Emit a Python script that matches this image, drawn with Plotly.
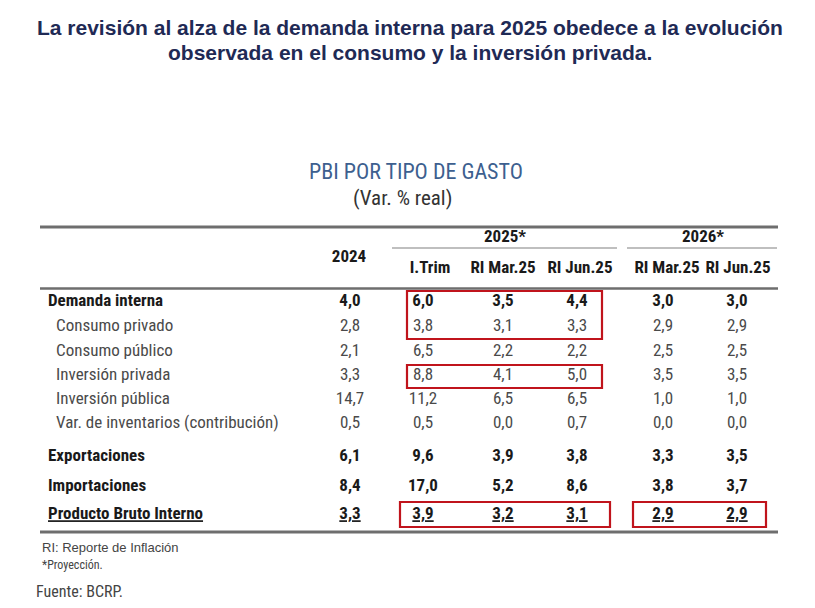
import plotly.graph_objects as go

# ---- data ----
categories = ["Demanda interna", "Consumo privado", "Consumo público", "Inversión privada",
              "Inversión pública", "Var. de inventarios (contribución)", "Exportaciones",
              "Importaciones", "Producto Bruto Interno"]
bold_rows = [True, False, False, False, False, False, True, True, True]
v2024 = [4.0, 2.8, 2.1, 3.3, 14.7, 0.5, 6.1, 8.4, 3.3]
itrim25 = [6.0, 3.8, 6.5, 8.8, 11.2, 0.5, 9.6, 17.0, 3.9]
mar25 = [3.5, 3.1, 2.2, 4.1, 6.5, 0.0, 3.9, 5.2, 3.2]
jun25 = [4.4, 3.3, 2.2, 5.0, 6.5, 0.7, 3.8, 8.6, 3.1]
mar26 = [3.0, 2.9, 2.5, 3.5, 1.0, 0.0, 3.3, 3.8, 2.9]
jun26 = [3.0, 2.9, 2.5, 3.5, 1.0, 0.0, 3.5, 3.7, 2.9]
sub_headers = ["I.Trim", "RI Mar.25", "RI Jun.25", "RI Mar.25", "RI Jun.25"]

# ---- layout (page-pixel coordinate system; page body has an 8px margin) ----
W, H = 815, 608
OFF = 8
row_y = [302, 327, 352, 376, 400, 424, 457, 487, 515]
col_x = [350, 423, 503, 577, 663, 737]
sub_x = [430, 503, 580, 667, 738]
FONT = "Liberation Sans Narrow, Arial Narrow, Roboto Condensed, Liberation Sans, Arial, sans-serif"
FS = 17
DARK = "#1a1a1a"
GREY = "#4a4a4a"

def fmt(v, bold, under):
    s = f"{v:.1f}".replace(".", ",")
    if under:
        s = f"<u>{s}</u>"
    if bold:
        s = f"<b>{s}</b>"
    return s

fig = go.Figure()

# labels
lab_text, lab_x = [], []
for i, c in enumerate(categories):
    t = c
    if i == len(categories) - 1:
        t = f"<u>{t}</u>"
    if bold_rows[i]:
        t = f"<b>{t}</b>"
        lab_x.append(48)
    else:
        lab_x.append(56)
    lab_text.append(t)
fig.add_trace(go.Scatter(x=lab_x, y=row_y, mode="text", text=lab_text,
                         textposition="middle right",
                         textfont=dict(family=FONT, size=FS,
                                       color=[DARK if b else GREY for b in bold_rows]),
                         hoverinfo="skip", showlegend=False))

for cx, series in zip(col_x, [v2024, itrim25, mar25, jun25, mar26, jun26]):
    txt = [fmt(v, bold_rows[i], i == len(series) - 1) for i, v in enumerate(series)]
    fig.add_trace(go.Scatter(x=[cx] * len(series), y=row_y, mode="text", text=txt,
                             textposition="middle center",
                             textfont=dict(family=FONT, size=FS,
                                           color=[DARK if b else GREY for b in bold_rows]),
                             hoverinfo="skip", showlegend=False))

# header texts
fig.add_trace(go.Scatter(x=sub_x, y=[269] * 5, mode="text",
                         text=[f"<b>{s}</b>" for s in sub_headers],
                         textposition="middle center",
                         textfont=dict(family=FONT, size=FS, color=DARK),
                         hoverinfo="skip", showlegend=False))
fig.add_trace(go.Scatter(x=[349, 505, 703], y=[258, 238, 238], mode="text",
                         text=["<b>2024</b>", "<b>2025*</b>", "<b>2026*</b>"],
                         textposition="middle center",
                         textfont=dict(family=FONT, size=FS, color=DARK),
                         hoverinfo="skip", showlegend=False))

# lines
line_grey = "#6e6e6e"
fig.add_shape(type="line", x0=40, x1=778, y0=227, y1=227, line=dict(color=line_grey, width=3))
fig.add_shape(type="line", x0=40, x1=778, y0=288.5, y1=288.5, line=dict(color=line_grey, width=2.5))
fig.add_shape(type="line", x0=40, x1=778, y0=532, y1=532, line=dict(color=line_grey, width=3))
fig.add_shape(type="line", x0=392, x1=617, y0=248, y1=248, line=dict(color="#aaaaaa", width=1.5))
fig.add_shape(type="line", x0=627, x1=777, y0=248, y1=248, line=dict(color="#aaaaaa", width=1.5))

# red boxes
red = "#c0141c"
for (x0, x1, y0, y1) in [(407, 602, 291, 339), (407, 602, 365, 388),
                         (400, 610, 502, 527), (633, 766, 502, 527)]:
    fig.add_shape(type="rect", x0=x0, x1=x1, y0=y0, y1=y1,
                  line=dict(color=red, width=2.2), fillcolor="rgba(0,0,0,0)")

# titles
TFONT = "Liberation Sans, Arial, sans-serif"
fig.add_annotation(x=410, y=27, text="<b>La revisión al alza de la demanda interna para 2025 obedece a la evolución</b>",
                   showarrow=False, font=dict(family=TFONT, size=21, color="#1f2a55"))
fig.add_annotation(x=410, y=52, text="<b>observada en el consumo y la inversión privada.</b>",
                   showarrow=False, font=dict(family=TFONT, size=21, color="#1f2a55"))
fig.add_annotation(x=416, y=171, text="PBI POR TIPO DE GASTO", showarrow=False,
                   font=dict(family=FONT, size=22, color="#3d5f8f"))
fig.add_annotation(x=402, y=198, text="(Var. % real)", showarrow=False,
                   font=dict(family=FONT, size=21, color="#333333"))

# footnotes
for x, y, t, fam, sz in [(40, 547, "RI: Reporte de Inflación", TFONT, 13),
                         (40, 565, "*Proyección.", FONT, 12),
                         (34, 591, "Fuente: BCRP.", FONT, 16)]:
    fig.add_annotation(x=x, y=y, text=t, showarrow=False, xanchor="left",
                       font=dict(family=fam, size=sz, color="#444444"))

fig.update_layout(width=W, height=H, margin=dict(l=0, r=0, t=0, b=0),
                  plot_bgcolor="white", paper_bgcolor="white",
                  xaxis=dict(range=[OFF, W + OFF], visible=False, fixedrange=True),
                  yaxis=dict(range=[H + OFF, OFF], visible=False, fixedrange=True))
fig.write_html("out.html")
